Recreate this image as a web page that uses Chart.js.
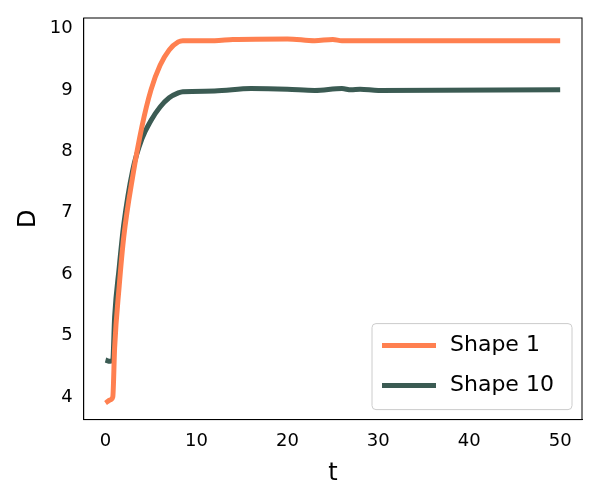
<!DOCTYPE html>
<html><head><script src="https://cdn.jsdelivr.net/npm/chart.js@4"></script>
<style>body{margin:0;background:#fff}#w{width:600px;height:500px}</style></head>
<body><div id="w"><canvas id="c"></canvas></div>
<script>
const t1=[0,0.5,0.8,1,1.5,2,3,4,5,6,7,8,8.5,12,14,20,23,25,26,50];
const d1=[3.9,3.95,4.0,4.8,5.8,6.6,7.6,8.4,9.0,9.4,9.65,9.78,9.8,9.8,9.82,9.83,9.8,9.82,9.8,9.8];
const t10=[0,0.5,0.8,1,1.5,2,3,4,5,6,7,8,8.5,12,16,20,23,26,27,28,30,50];
const d10=[4.6,4.58,4.6,5.3,6.1,6.8,7.7,8.2,8.5,8.72,8.87,8.95,8.97,8.98,9.02,9.01,8.99,9.02,9.0,9.01,8.99,9.0];
const labels=['Shape 1','Shape 10'];
const colors=['#FF8050','#3B5B53'];
const xTicks=[0,10,20,30,40,50], yTicks=[4,5,6,7,8,9,10];
const F='DejaVu Sans';
const legendPlugin={id:'lg',afterDraw(ch){const c=ch.ctx,a=ch.chartArea;const w=200,h=86,x=a.right-w-10,y=a.bottom-h-10;
c.save();c.fillStyle='rgba(255,255,255,0.8)';c.strokeStyle='#ccc';c.lineWidth=1;c.beginPath();c.roundRect(x,y,w,h,4);c.fill();c.stroke();
c.font='22px '+F;c.textBaseline='middle';
ch.data.datasets.forEach((d,i)=>{const yy=y+22+i*40;c.strokeStyle=d.borderColor;c.lineWidth=5;c.beginPath();c.moveTo(x+10,yy);c.lineTo(x+64,yy);c.stroke();c.fillStyle='#000';c.fillText(d.label,x+78,yy);});c.restore();}};
const mk=(t,d)=>t.map((v,i)=>({x:v,y:d[i]}));
new Chart(document.getElementById('c'),{type:'line',
data:{datasets:[{label:labels[0],data:mk(t1,d1),borderColor:colors[0],borderWidth:5,pointRadius:0,tension:0.3,cubicInterpolationMode:'monotone'},
{label:labels[1],data:mk(t10,d10),borderColor:colors[1],borderWidth:5,pointRadius:0,cubicInterpolationMode:'monotone'}]},
options:{responsive:true,maintainAspectRatio:false,animation:false,
layout:{padding:{left:10,right:18,top:18,bottom:8}},
plugins:{legend:{display:false},tooltip:{enabled:false}},
scales:{x:{type:'linear',min:-2.4,max:52.4,grid:{display:false,drawTicks:true},border:{color:'#000',width:1},
afterBuildTicks:s=>{s.ticks=xTicks.map(v=>({value:v}))},
ticks:{color:'#000',font:{family:F,size:18}},title:{display:true,text:'t',color:'#000',font:{family:F,size:24}}},
y:{min:3.63,max:10.17,grid:{display:false},border:{color:'#000',width:1},
afterBuildTicks:s=>{s.ticks=yTicks.map(v=>({value:v}))},
ticks:{color:'#000',font:{family:F,size:18}},title:{display:true,text:'D',color:'#000',font:{family:F,size:24}}}}},
plugins:[legendPlugin,{id:'box',afterDraw(ch){const c=ch.ctx,a=ch.chartArea;c.save();c.strokeStyle='#000';c.lineWidth=1;c.strokeRect(a.left,a.top,a.right-a.left,a.bottom-a.top);c.restore();}}]});
</script></body></html>
